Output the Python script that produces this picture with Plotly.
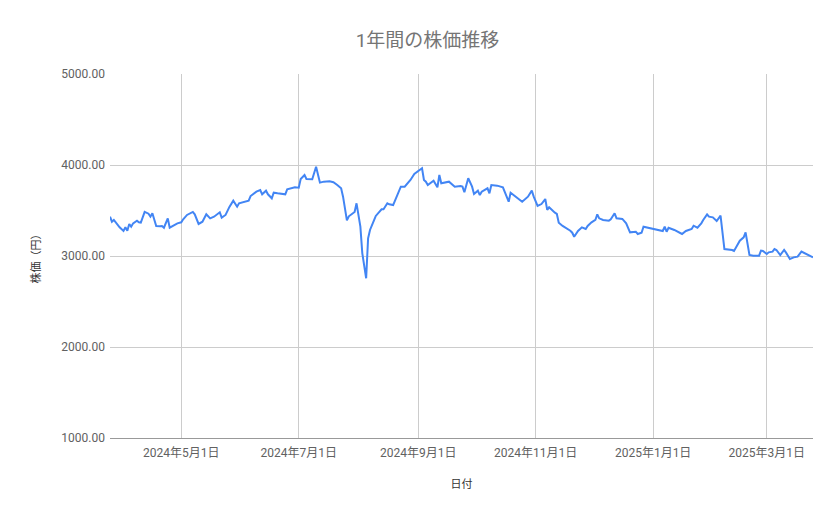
import plotly.graph_objects as go

# 日付と株価（チャートから読み取った値）
dates = [
    "2024-03-25", "2024-03-26", "2024-03-27", "2024-03-28", "2024-03-30",
    "2024-04-01", "2024-04-02", "2024-04-03", "2024-04-04", "2024-04-05",
    "2024-04-06", "2024-04-08", "2024-04-09", "2024-04-10", "2024-04-12",
    "2024-04-14", "2024-04-15", "2024-04-16", "2024-04-17", "2024-04-18",
    "2024-04-20", "2024-04-21", "2024-04-22", "2024-04-24", "2024-04-25",
    "2024-04-26", "2024-04-28", "2024-04-29", "2024-05-01", "2024-05-02",
    "2024-05-04", "2024-05-07", "2024-05-08", "2024-05-10", "2024-05-12",
    "2024-05-14", "2024-05-16", "2024-05-18", "2024-05-21", "2024-05-22",
    "2024-05-24", "2024-05-26", "2024-05-28", "2024-05-30", "2024-05-31",
    "2024-06-03", "2024-06-05", "2024-06-06", "2024-06-09", "2024-06-11",
    "2024-06-12", "2024-06-14", "2024-06-15", "2024-06-17", "2024-06-18",
    "2024-06-20", "2024-06-24", "2024-06-25", "2024-06-27", "2024-06-29",
    "2024-07-01", "2024-07-02", "2024-07-04", "2024-07-05", "2024-07-08",
    "2024-07-10", "2024-07-12", "2024-07-14", "2024-07-17", "2024-07-19",
    "2024-07-21", "2024-07-23", "2024-07-24", "2024-07-26", "2024-07-27",
    "2024-07-29", "2024-07-30", "2024-07-31", "2024-08-02", "2024-08-03",
    "2024-08-05", "2024-08-06", "2024-08-07", "2024-08-09", "2024-08-10",
    "2024-08-13", "2024-08-14", "2024-08-16", "2024-08-17", "2024-08-19",
    "2024-08-21", "2024-08-23", "2024-08-25", "2024-08-28", "2024-08-30",
    "2024-09-03", "2024-09-04", "2024-09-05", "2024-09-06", "2024-09-09",
    "2024-09-11", "2024-09-12", "2024-09-13", "2024-09-17", "2024-09-20",
    "2024-09-23", "2024-09-24", "2024-09-25", "2024-09-27", "2024-09-29",
    "2024-09-30", "2024-10-02", "2024-10-03", "2024-10-04", "2024-10-07",
    "2024-10-08", "2024-10-09", "2024-10-12", "2024-10-15", "2024-10-17",
    "2024-10-18", "2024-10-19", "2024-10-21", "2024-10-25", "2024-10-28",
    "2024-10-30", "2024-10-31", "2024-11-02", "2024-11-04", "2024-11-06",
    "2024-11-07", "2024-11-08", "2024-11-11", "2024-11-12", "2024-11-13",
    "2024-11-15", "2024-11-19", "2024-11-20", "2024-11-21", "2024-11-23",
    "2024-11-25", "2024-11-27", "2024-11-28", "2024-11-30", "2024-12-02",
    "2024-12-03", "2024-12-04", "2024-12-06", "2024-12-09", "2024-12-10",
    "2024-12-12", "2024-12-13", "2024-12-16", "2024-12-18", "2024-12-20",
    "2024-12-23", "2024-12-24", "2024-12-26", "2024-12-27", "2024-12-30",
    "2025-01-02", "2025-01-06", "2025-01-07", "2025-01-08", "2025-01-09",
    "2025-01-12", "2025-01-16", "2025-01-18", "2025-01-21", "2025-01-22",
    "2025-01-24", "2025-01-26", "2025-01-27", "2025-01-29", "2025-01-30",
    "2025-02-01", "2025-02-03", "2025-02-05", "2025-02-07", "2025-02-09",
    "2025-02-11", "2025-02-12", "2025-02-14", "2025-02-15", "2025-02-17",
    "2025-02-18", "2025-02-20", "2025-02-22", "2025-02-25", "2025-02-26",
    "2025-02-27", "2025-03-01", "2025-03-02", "2025-03-04", "2025-03-05",
    "2025-03-06", "2025-03-08", "2025-03-10", "2025-03-11", "2025-03-13",
    "2025-03-15", "2025-03-17", "2025-03-19", "2025-03-21", "2025-03-24",
    "2025-03-25",
]
prices = [
    3432, 3377, 3396, 3366, 3315,
    3275, 3315, 3278, 3352, 3322,
    3359, 3388, 3370, 3366, 3484,
    3465, 3432, 3469, 3396, 3330,
    3326, 3330, 3311, 3414, 3311,
    3322, 3341, 3359, 3370, 3403,
    3451, 3484, 3458, 3352, 3377,
    3458, 3414, 3432, 3480, 3421,
    3451, 3540, 3608, 3542, 3579,
    3597, 3608, 3659, 3707, 3725,
    3678, 3718, 3678, 3634, 3696,
    3689, 3678, 3733, 3744, 3755,
    3751, 3846, 3890, 3846, 3843,
    3981, 3806, 3817, 3821, 3810,
    3780, 3744, 3652, 3392, 3436,
    3469, 3484, 3579, 3322, 3029,
    2755, 3194, 3286, 3388, 3440,
    3513, 3513, 3579, 3568, 3560,
    3670, 3762, 3762, 3835, 3901,
    3964, 3835, 3817, 3780, 3828,
    3755, 3890, 3799, 3817, 3762,
    3769, 3762, 3700, 3854, 3762,
    3681, 3718, 3670, 3707, 3744,
    3689, 3780, 3773, 3755, 3659,
    3597, 3696, 3663, 3597, 3652,
    3718, 3652, 3550, 3571, 3626,
    3506, 3535, 3476, 3462, 3366,
    3330, 3278, 3256, 3212, 3275,
    3315, 3297, 3330, 3370, 3396,
    3458, 3414, 3396, 3388, 3403,
    3469, 3414, 3407, 3359, 3260,
    3267, 3242, 3256, 3322, 3308,
    3293, 3275, 3322, 3267, 3311,
    3286, 3242, 3275, 3297, 3333,
    3311, 3359, 3396, 3458, 3432,
    3425, 3385, 3443, 3077, 3074,
    3066, 3055, 3139, 3168, 3205,
    3260, 3011, 3004, 3004, 3059,
    3055, 3022, 3040, 3048, 3077,
    3066, 3011, 3066, 3037, 2967,
    2985, 2993, 3048, 3029, 3000,
    2985,
]

tick_dates = ["2024-05-01", "2024-07-01", "2024-09-01", "2024-11-01", "2025-01-01", "2025-03-01"]
tick_labels = ["2024年5月1日", "2024年7月1日", "2024年9月1日", "2024年11月1日", "2025年1月1日", "2025年3月1日"]

font_family = "Roboto, 'Noto Sans CJK JP', sans-serif"

fig = go.Figure()
fig.add_trace(go.Scatter(
    x=dates, y=prices, mode="lines",
    line=dict(color="#4285F4", width=2),
    showlegend=False,
))

fig.update_layout(
    width=839, height=519,
    paper_bgcolor="white", plot_bgcolor="white",
    margin=dict(l=102, r=34, t=66, b=89),
    font=dict(family=font_family, size=12, color="#616161"),
    title=dict(text="1年間の株価推移", x=0.5, xanchor="center", y=0.938, yanchor="middle",
               font=dict(size=19, color="#757575")),
)
fig.update_xaxes(
    range=["2024-03-25", "2025-03-25"],
    tickvals=tick_dates, ticktext=tick_labels,
    showgrid=True, gridcolor="#cccccc", gridwidth=1,
    showline=True, linecolor="#999999", linewidth=1,
    zeroline=False, ticks="", ticklabelstandoff=4,
    title=dict(text="日付", font=dict(size=11, color="#333333"), standoff=20),
)
fig.update_yaxes(
    range=[1000, 5000], dtick=1000, tickformat=".2f",
    showgrid=True, gridcolor="#cccccc", gridwidth=1,
    zeroline=False, showline=False, ticks="", ticklabelstandoff=4,
    title=dict(text="株価（円）", font=dict(size=11, color="#333333"), standoff=18),
)

fig.write_html("out.html")
